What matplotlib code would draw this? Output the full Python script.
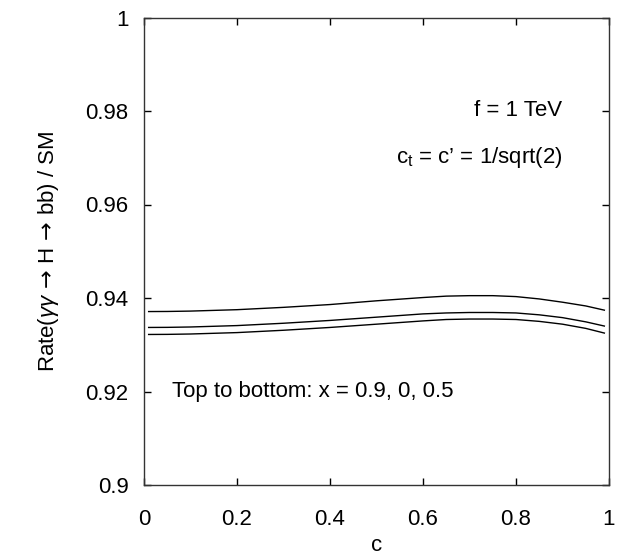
import matplotlib
matplotlib.use("Agg")
import matplotlib.pyplot as plt

plt.rcParams['font.family'] = ['Liberation Sans', 'DejaVu Sans']
plt.rcParams['mathtext.fontset'] = 'custom'
plt.rcParams['mathtext.rm'] = 'Liberation Sans'
plt.rcParams['mathtext.it'] = 'Liberation Sans:italic'
plt.rcParams['mathtext.sf'] = 'DejaVu Sans'

c_vals = [0.01, 0.05, 0.1, 0.15, 0.2, 0.25, 0.3, 0.35, 0.4, 0.45, 0.5,
          0.55, 0.6, 0.65, 0.7, 0.75, 0.8, 0.85, 0.9, 0.95, 0.99]
rate_x09 = [0.9371, 0.93712, 0.9372, 0.93735, 0.9375, 0.93775, 0.9380, 0.9383, 0.9386, 0.9390, 0.9394,
            0.93975, 0.9401, 0.9404, 0.9405, 0.9405, 0.9403, 0.9398, 0.9391, 0.9383, 0.9374]
rate_x0 = [0.9337, 0.93372, 0.9338, 0.93395, 0.9341, 0.93435, 0.9346, 0.9349, 0.9352, 0.93555, 0.9359,
           0.93625, 0.9366, 0.9368, 0.9369, 0.9369, 0.9368, 0.9364, 0.9358, 0.9349, 0.9340]
rate_x05 = [0.9322, 0.93222, 0.9323, 0.93245, 0.9326, 0.93285, 0.9331, 0.9334, 0.9337, 0.93405, 0.9344,
            0.93475, 0.9351, 0.9354, 0.9355, 0.9355, 0.9354, 0.9350, 0.9344, 0.9335, 0.9325]

xticks = [0, 0.2, 0.4, 0.6, 0.8, 1]
xticklabels = ['0', '0.2', '0.4', '0.6', '0.8', '1']
yticks = [0.9, 0.92, 0.94, 0.96, 0.98, 1.0]
yticklabels = ['0.9', '0.92', '0.94', '0.96', '0.98', '1']

fig = plt.figure(figsize=(6.3, 5.59), dpi=100)
ax = fig.add_axes([144/630, 1-485/559, (609-144)/630, (485-17.5)/559])

for series in (rate_x09, rate_x0, rate_x05):
    ax.plot(c_vals, series, color='black', lw=1.0)

ax.set_xlim(0, 1)
ax.set_ylim(0.9, 1.0)
ax.set_xticks(xticks)
ax.set_xticklabels(xticklabels)
ax.set_yticks(yticks)
ax.set_yticklabels(yticklabels)
ax.tick_params(direction='in', length=5, width=1, labelsize=16,
               top=True, right=True)
ax.tick_params(axis='x', pad=17)
ax.tick_params(axis='y', pad=11)
for s in ax.spines.values():
    s.set_linewidth(1.0)
    s.set_color('#333333')

ax.set_xlabel('c', fontsize=16, labelpad=4)
ax.set_ylabel(r'Rate($\gamma\gamma\,\mathsf{\rightarrow}\,\mathrm{H}\,\mathsf{\rightarrow}\,\mathrm{bb}$) / SM',
              fontsize=16, labelpad=18)

ax.text(0.899, 0.98, 'f = 1 TeV', fontsize=16, ha='right', va='center')
ax.text(0.899, 0.970, r"$\mathrm{c_t}$ = c’ = 1/sqrt(2)", fontsize=16, ha='right', va='center')
ax.text(0.06, 0.92, 'Top to bottom: x = 0.9, 0, 0.5', fontsize=16, ha='left', va='center')

fig.savefig('out.png', dpi=100)
